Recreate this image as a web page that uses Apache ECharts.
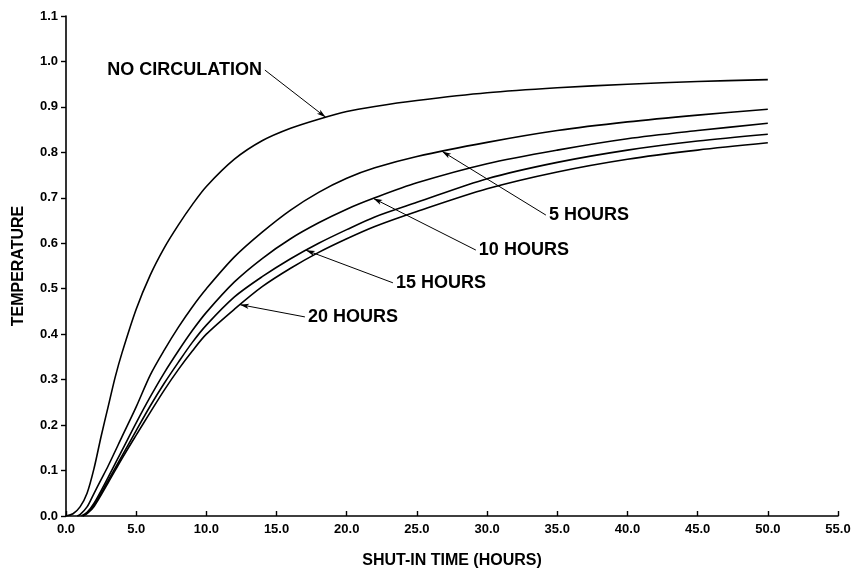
<!DOCTYPE html>
<html><head><meta charset="utf-8">
<script src="https://cdn.jsdelivr.net/npm/echarts@6/dist/echarts.min.js"></script>
<style>html,body{margin:0;padding:0;background:#fff}#c{width:851px;height:569px}</style>
</head><body><div id="c"></div>
<script>
// Shut-in time (hours)
const xNoCirc = [0,0.5,1,1.5,2,2.5,3,3.5,4,5,6,7,8,9,10,12,14,16,18,20,22,25,30,35,40,45,50];
const yNoCirc = [0,0.005,0.02,0.05,0.105,0.175,0.24,0.305,0.36,0.455,0.53,0.59,0.64,0.685,0.725,0.785,0.826,0.853,0.873,0.89,0.901,0.914,0.931,0.942,0.95,0.956,0.96];

const x5 = [0.8,1,1.5,2,2.5,3,4,5,6,7,8,9,10,12,14,16,18,20,22,25,30,35,40,45,50];
const y5 = [0,0.003,0.02,0.05,0.08,0.11,0.175,0.24,0.31,0.365,0.415,0.46,0.5,0.57,0.625,0.673,0.712,0.743,0.766,0.791,0.822,0.848,0.867,0.882,0.895];

const x10 = [1.1,1.5,2,3,4,5,6,7,8,9,10,12,14,16,18,20,22,25,30,35,40,45,50];
const y10 = [0,0.008,0.028,0.085,0.145,0.205,0.262,0.315,0.363,0.408,0.448,0.515,0.567,0.61,0.645,0.675,0.70,0.733,0.775,0.805,0.83,0.848,0.864];

const x15 = [1.2,1.5,2,3,4,5,6,7,8,9,10,12,14,16,18,20,22,25,30,35,40,45,50];
const y15 = [0,0.006,0.024,0.078,0.133,0.188,0.242,0.292,0.338,0.382,0.42,0.482,0.527,0.566,0.60,0.63,0.658,0.69,0.742,0.778,0.805,0.825,0.84];

const x20 = [1.2,1.5,2,3,4,5,6,7,8,9,10,12,14,16,18,20,22,25,30,35,40,45,50];
const y20 = [0,0.005,0.021,0.073,0.127,0.178,0.228,0.277,0.322,0.363,0.40,0.455,0.505,0.545,0.58,0.61,0.637,0.67,0.72,0.757,0.785,0.805,0.821];

const seriesNames = ['NO CIRCULATION','5 HOURS','10 HOURS','15 HOURS','20 HOURS'];
// annotation: label anchor [x,y] in data units, label side, x where arrow meets curve
const labelAnchors = [[14.17,0.981],[34.19,0.662],[29.2,0.585],[23.29,0.513],[17.02,0.438]];
const labelSides = ['left','right','right','right','right'];
const arrowTipX = [18.5,26.8,21.9,17.1,12.4];

const xTicks = [0,5,10,15,20,25,30,35,40,45,50,55];
const yTicks = [0,0.1,0.2,0.3,0.4,0.5,0.6,0.7,0.8,0.9,1.0,1.1];

const xs = [xNoCirc,x5,x10,x15,x20];
const ys = [yNoCirc,y5,y10,y15,y20];

function interp(xa, ya, x){
  for (let i=0;i<xa.length-1;i++){
    if (x>=xa[i] && x<=xa[i+1]){
      const t=(x-xa[i])/(xa[i+1]-xa[i]);
      return ya[i]+t*(ya[i+1]-ya[i]);
    }
  }
  return ya[ya.length-1];
}

const FONT = '"Liberation Sans", Arial, Helvetica, sans-serif';

const series = seriesNames.map((name,i)=>{
  const tipX = arrowTipX[i];
  const tipY = interp(xs[i], ys[i], tipX);
  return {
    name, type:'line', smooth:0.3, showSymbol:false, symbol:'none',
    lineStyle:{color:'#000', width:1.6},
    data: xs[i].map((x,j)=>[x, ys[i][j]]),
    markLine:{
      silent:true, animation:false,
      symbol:['none','arrow'], symbolSize:[4,9],
      lineStyle:{color:'#000', width:1, type:'solid'},
      label:{show:false},
      data:[[{coord:labelAnchors[i]},{coord:[tipX,tipY]}]]
    },
    markPoint:{
      silent:true, animation:false,
      data:[{coord:labelAnchors[i], symbol:'circle', symbolSize:0,
        label:{show:true, position:labelSides[i], distance:3, formatter:name,
          color:'#000', fontFamily:FONT, fontWeight:'bold', fontSize:18}}]
    }
  };
});

const chart = echarts.init(document.getElementById('c'), null, {renderer:'canvas'});
chart.setOption({
  animation:false,
  backgroundColor:'#fff',
  grid:{left:66, right:13, top:16, bottom:53, containLabel:false, outerBoundsMode:'none'},
  xAxis:{
    type:'value', min:0, max:55, interval:5,
    name:'SHUT-IN TIME (HOURS)', nameLocation:'middle', nameGap:37,
    nameTextStyle:{color:'#000', fontFamily:FONT, fontWeight:'bold', fontSize:16},
    axisLine:{show:true, onZero:false, lineStyle:{color:'#000', width:1.6}},
    axisTick:{show:true, inside:true, length:5, lineStyle:{color:'#000', width:1.4}},
    axisLabel:{color:'#000', fontFamily:FONT, fontWeight:'bold', fontSize:13, margin:7,
      formatter:v=>{const t=xTicks.find(k=>Math.abs(k-v)<1e-6); return (t===undefined?v:t).toFixed(1);}},
    splitLine:{show:false}
  },
  yAxis:{
    type:'value', min:0, max:1.1, interval:0.1,
    name:'TEMPERATURE', nameLocation:'middle', nameGap:39, nameRotate:90,
    nameTextStyle:{color:'#000', fontFamily:FONT, fontWeight:'bold', fontSize:16},
    axisLine:{show:true, lineStyle:{color:'#000', width:1.6}},
    axisTick:{show:true, inside:false, length:5, lineStyle:{color:'#000', width:1.4}},
    axisLabel:{color:'#000', fontFamily:FONT, fontWeight:'bold', fontSize:13, margin:8,
      formatter:v=>{const t=yTicks.find(k=>Math.abs(k-v)<1e-6); return (t===undefined?v:t).toFixed(1);}},
    splitLine:{show:false}
  },
  series
});
</script></body></html>
